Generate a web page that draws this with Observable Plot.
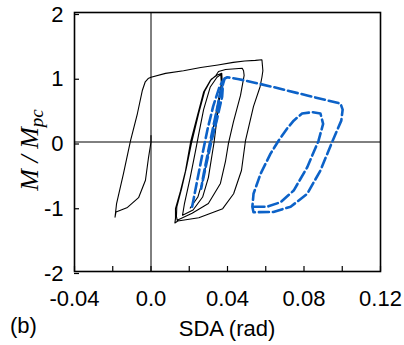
<!DOCTYPE html>
<html>
<head>
<meta charset="utf-8">
<script src="https://cdn.jsdelivr.net/npm/d3@7"></script>
<script src="https://cdn.jsdelivr.net/npm/@observablehq/plot@0.6"></script>
<style>
  html, body { margin: 0; padding: 0; background: #fff; }
  #chart { width: 404px; height: 345px; overflow: hidden; }
</style>
</head>
<body>
<div id="chart"></div>
<script>
// ---- data ----
const xTicks = [-0.04, -0.02, 0, 0.02, 0.04, 0.06, 0.08, 0.10, 0.12];
const xLabelTicks = [-0.04, 0, 0.04, 0.08, 0.12];
const xTickLabels = ["-0.04", "0.0", "0.04", "0.08", "0.12"];
const yTicks = [-2, -1, 0, 1, 2];
const yTickLabels = ["-2", "-1", "0", "1", "2"];

const blackX = [
  0, 0, -0.0013, -0.0029, -0.0065, -0.0123, -0.0183, -0.0188, -0.0180, -0.0144,
  -0.0107, -0.0071, -0.0045, -0.0030, -0.0015, 0, 0.0076, 0.017, 0.026, 0.035,
  0.043, 0.049, 0.0546, 0.058, 0.0585, 0.0580, 0.057, 0.0536, 0.0494, 0.0473,
  0.0432, 0.0375, 0.025, 0.014, 0.0125,
  0.0128, 0.0128, 0.0154, 0.018, 0.0207, 0.0243, 0.0275, 0.031, 0.034, 0.0353,
  0.039, 0.0477, 0.0484, 0.0487, 0.0468, 0.0431, 0.0405, 0.039, 0.0363, 0.030,
  0.0215, 0.0137,
  0.0133, 0.0135, 0.016, 0.0185, 0.0213, 0.025, 0.028, 0.0315, 0.035, 0.037,
  0.0372, 0.0355, 0.033, 0.030, 0.027, 0.022, 0.0165,
  0.0175, 0.0205, 0.0232, 0.0248, 0.0275, 0.031, 0.0345, 0.0365,
  0.0368, 0.034, 0.0305, 0.0275, 0.0245, 0.0205
];
const blackY = [
  0.10, 0, -0.24, -0.59, -0.86, -1.01, -1.08, -1.16, -0.95, -0.49,
  0.02, 0.44, 0.80, 0.93, 0.98, 1.0, 1.06, 1.10, 1.15, 1.19,
  1.23, 1.25, 1.26, 1.27, 1.10, 1.0, 0.85, 0.55, 0.02, -0.44,
  -0.80, -1.03, -1.17, -1.22, -1.25,
  -1.18, -1.03, -0.76, -0.45, 0, 0.41, 0.77, 0.95, 1.03, 1.09,
  1.12, 1.14, 1.10, 1.03, 0.72, 0.31, -0.02, -0.29, -0.64, -0.95,
  -1.10, -1.21,
  -1.15, -1.0, -0.72, -0.40, 0, 0.45, 0.78, 0.97, 1.04, 1.06,
  0.95, 0.60, 0, -0.55, -0.85, -1.05, -1.13,
  -0.95, -0.55, -0.15, 0.10, 0.50, 0.85, 1.0, 1.04,
  0.90, 0.45, -0.10, -0.55, -0.85, -1.02
];

const blueX = [
  0.0215, 0.024, 0.0268, 0.0296, 0.0325, 0.0358, 0.0378,
  0.0372, 0.0345, 0.0315, 0.0285, 0.0262,
  0.0275, 0.0302, 0.033, 0.036, 0.0385,
  0.0399, 0.046, 0.0536, 0.0643, 0.0817, 0.0991, 0.1002, 0.0995, 0.0947, 0.0886,
  0.0817, 0.073, 0.064, 0.0536, 0.053, 0.0536, 0.0573, 0.0625, 0.0667, 0.0712,
  0.0746, 0.079, 0.0843, 0.0886, 0.090, 0.0876, 0.0817, 0.0746, 0.0677, 0.0607, 0.053
];
const blueY = [
  -1.0, -0.62, -0.2, 0.2, 0.55, 0.85, 0.96,
  0.70, 0.35, 0, -0.40, -0.72,
  -0.50, -0.10, 0.30, 0.72, 0.98,
  1.0, 0.97, 0.92, 0.846, 0.718, 0.593, 0.50, 0.33, 0, -0.44,
  -0.80, -1.0, -1.08, -1.085, -1.0, -0.80, -0.49, -0.18, 0.02, 0.21,
  0.33, 0.44, 0.46, 0.44, 0.28, 0.02, -0.39, -0.75, -0.93, -1.0, -1.0
];

// ---- build tables ----
const black = blackX.map((x, i) => ({x, y: blackY[i]}));
const blue = blueX.map((x, i) => ({x, y: blueY[i]}));
const xLab = new Map(xLabelTicks.map((t, i) => [t, xTickLabels[i]]));
const yLab = new Map(yTicks.map((t, i) => [t, yTickLabels[i]]));

const chart = Plot.plot({
  width: 404,
  height: 345,
  marginLeft: 74,
  marginRight: 24,
  marginTop: 12,
  marginBottom: 74,
  style: {fontFamily: "'Liberation Sans', Arial, Helvetica, sans-serif", fontSize: "22px", background: "#fff", color: "#000"},
  x: {domain: [-0.04, 0.12]},
  y: {domain: [-2, 2]},
  marks: [
    Plot.ruleX([0], {stroke: "#000", strokeWidth: 1}),
    Plot.ruleY([0], {stroke: "#000", strokeWidth: 1}),
    Plot.line(black, {x: "x", y: "y", stroke: "#000", strokeWidth: 1.1, strokeLinejoin: "round"}),
    Plot.line(blue, {x: "x", y: "y", stroke: "#0c62c8", strokeWidth: 2.6, strokeDasharray: "10,4", strokeLinejoin: "round"}),
    Plot.frame({stroke: "#000", strokeWidth: 1.6}),
    Plot.axisX(xTicks, {tickSize: -5, tickPadding: 24, tickFormat: (d) => xLab.get(d) ?? "", label: null, strokeWidth: 1.2}),
    Plot.axisY(yTicks, {tickSize: -5, tickPadding: 16, tickFormat: (d) => yLab.get(d), label: null, dy: 2, strokeWidth: 1.2})
  ]
});

document.getElementById("chart").appendChild(chart);

// titles as real SVG text
const svg = d3.select(chart);
svg.append("text")
  .attr("x", 10).attr("y", 333)
  .attr("text-anchor", "start")
  .attr("font-family", "'Liberation Sans', Arial, sans-serif")
  .attr("font-size", 22).attr("fill", "#000")
  .text("(b)");
svg.append("text")
  .attr("x", 227).attr("y", 336)
  .attr("text-anchor", "middle")
  .attr("font-family", "'Liberation Sans', Arial, sans-serif")
  .attr("font-size", 22).attr("fill", "#000")
  .text("SDA (rad)");
const yl = svg.append("text")
  .attr("transform", "translate(38,150) rotate(-90)")
  .attr("text-anchor", "middle")
  .attr("font-family", "'Liberation Serif', 'DejaVu Serif', serif")
  .attr("font-style", "italic")
  .attr("font-size", 26).attr("fill", "#000");
yl.append("tspan").text("M / M");
yl.append("tspan").attr("font-size", 19).attr("dy", 5).text("pc");
</script>
</body>
</html>
